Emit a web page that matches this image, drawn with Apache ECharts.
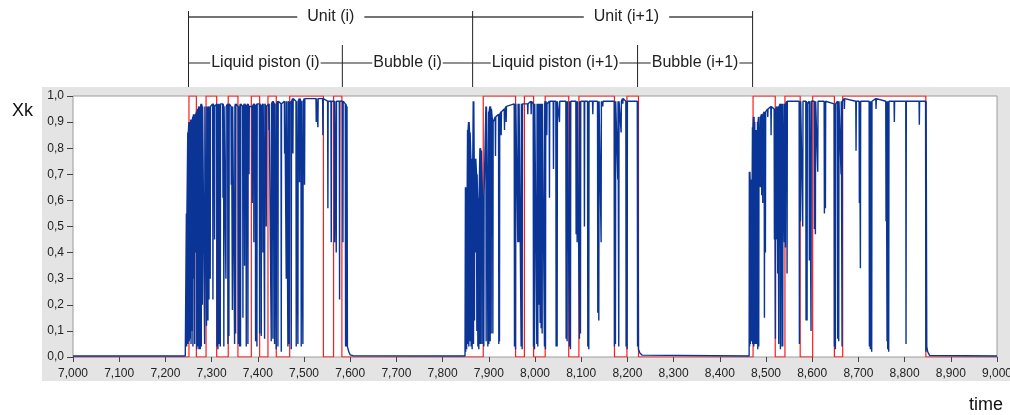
<!DOCTYPE html>
<html>
<head>
<meta charset="utf-8">
<script src="https://cdn.jsdelivr.net/npm/echarts@6/dist/echarts.min.js"></script>
<style>
  html, body { margin: 0; padding: 0; background: #fff; }
  #chart { width: 1010px; height: 415px; }
</style>
</head>
<body>
<div id="chart"></div>
<script>
// x axis (time) and y axis (Xk) ticks
var timeMin = 7000, timeMax = 9000, timeStep = 100;
var xkMin = 0, xkMax = 1, xkStep = 0.1;

// red indicator: level switches to redLevels[i] at redTimes[i]
var redTimes  = [7000, 7251, 7267, 7288, 7311, 7336, 7357, 7386, 7404, 7422, 7440, 7469, 7542, 7564, 7582,
                 7888, 7958, 7977, 7997, 8022, 8073, 8095, 8172, 8199, 8224,
                 8472, 8520, 8541, 8574, 8601, 8648, 8666, 8846, 9000];
var redLevels = [0, 1, 0, 1, 0, 1, 0, 1, 0, 1, 0, 1, 0, 1, 0,
                 1, 0, 1, 0, 1, 0, 1, 0, 1, 0,
                 1, 0, 1, 0, 1, 0, 1, 0, 0];

// blue Xk signal: flat level outside the pistons
var baseLevel = 0.004;
// [time, lowest value of the dip, level around it]
var piston1 = [
  [7246.0,0.04,0.55],[7249.0,0.05,0.86],[7251.5,0.06,0.90],[7253.5,0.07,0.89],[7255.5,0.05,0.91],
  [7257.5,0.10,0.90],[7259.6,0.04,0.92],[7261.5,0.30,0.93],[7263.5,0.05,0.92],[7265.4,0.40,0.93],
  [7268.0,0.03,0.94],[7270.5,0.04,0.95],[7272.6,0.03,0.96],[7275.5,0.03,0.96],[7277.7,0.04,0.97],
  [7280.0,0.20,0.96],[7284.9,0.05,0.96],[7289.0,0.12,0.96],[7292.1,0.14,0.95],[7294.3,0.22,0.96],
  [7297.0,0.30,0.96],[7302.9,0.22,0.97],[7306.5,0.45,0.96],[7311.6,0.04,0.97],[7313.7,0.03,0.97],
  [7315.9,0.05,0.96],[7318.8,0.04,0.97],[7324.6,0.61,0.97],[7326.5,0.04,0.96],[7331.0,0.30,0.96],
  [7335.4,0.05,0.97],[7337.5,0.08,0.97],[7342.6,0.66,0.96],[7345.0,0.18,0.96],[7349.8,0.05,0.96],
  [7352.0,0.09,0.97],[7358.0,0.05,0.96],[7360.6,0.04,0.96],[7362.6,0.04,0.97],[7367.8,0.15,0.96],
  [7371.4,0.35,0.97],[7375.0,0.04,0.96],[7378.6,0.05,0.97],[7381.0,0.70,0.96],[7388.0,0.59,0.96],
  [7391.5,0.44,0.97],[7395.2,0.06,0.96],[7398.1,0.04,0.97],[7403.9,0.09,0.97],[7407.5,0.08,0.96],
  [7411.1,0.40,0.97],[7414.7,0.07,0.97],[7418.3,0.50,0.96],[7424.1,0.87,0.97],[7429.1,0.06,0.97],
  [7432.7,0.07,0.98],[7436.3,0.05,0.97],[7439.9,0.03,0.97],[7443.6,0.04,0.98],[7450.8,0.02,0.97],
  [7458.0,0.78,0.98],[7461.6,0.30,0.98],[7465.2,0.04,0.98],[7468.0,0.05,0.97],[7472.4,0.03,0.98],
  [7476.0,0.78,0.99],[7483.2,0.04,0.98],[7486.8,0.05,0.98],[7490.4,0.67,0.99],[7494.0,0.04,0.98],
  [7497.6,0.05,0.98],[7501.2,0.66,0.99],[7526.5,0.90,0.99],[7530.1,0.88,0.99],[7540.9,0.85,0.99],
  [7551.7,0.57,0.98],[7559.0,0.44,0.98],[7566.2,0.44,0.98],[7569.8,0.40,0.98],[7577.0,0.22,0.98],
  [7584.2,0.44,0.98],[7590.0,0.04,0.97],[7592.5,0.04,0.96]
];
var piston2 = [
  [7850.0,0.02,0.65],[7852.0,0.03,0.45],[7854.6,0.05,0.87],[7856.8,0.04,0.90],[7859.0,0.06,0.86],
  [7861.8,0.04,0.76],[7864.0,0.03,0.60],[7866.9,0.05,0.98],[7869.0,0.14,0.76],[7871.2,0.40,0.76],
  [7874.1,0.10,0.70],[7876.3,0.04,0.61],[7878.4,0.03,0.60],[7881.3,0.05,0.80],[7883.5,0.05,0.79],
  [7887.1,0.05,0.61],[7889.2,0.04,0.62],[7894.3,0.06,0.96],[7897.9,0.04,0.46],[7900.1,0.05,0.94],
  [7903.0,0.06,0.96],[7905.1,0.09,0.95],[7908.8,0.09,0.90],[7914.5,0.77,0.92],[7921.7,0.05,0.93],
  [7923.1,0.06,0.93],[7926.8,0.85,0.94],[7934.0,0.87,0.95],[7937.6,0.90,0.96],[7955.6,0.04,0.97],
  [7957.8,0.03,0.97],[7962.8,0.44,0.97],[7965.0,0.44,0.97],[7970.0,0.04,0.97],[7972.2,0.03,0.97],
  [7984.4,0.93,0.97],[7991.7,0.93,0.98],[7996.7,0.04,0.97],[7998.9,0.03,0.97],[8003.9,0.05,0.97],
  [8006.1,0.04,0.97],[8008.2,0.20,0.97],[8011.1,0.13,0.97],[8013.3,0.11,0.97],[8015.5,0.09,0.97],
  [8020.5,0.04,0.97],[8022.7,0.03,0.98],[8025.5,0.85,0.97],[8031.3,0.61,0.98],[8040.0,0.72,0.98],
  [8045.7,0.04,0.98],[8047.9,0.04,0.98],[8053.0,0.90,0.98],[8067.4,0.07,0.98],[8069.5,0.06,0.98],
  [8074.6,0.04,0.98],[8076.8,0.03,0.98],[8089.0,0.47,0.98],[8091.2,0.44,0.98],[8096.2,0.07,0.98],
  [8098.4,0.09,0.98],[8107.0,0.50,0.98],[8114.3,0.04,0.98],[8116.4,0.03,0.98],[8125.1,0.93,0.98],
  [8135.9,0.17,0.98],[8138.1,0.14,0.98],[8143.1,0.44,0.98],[8146.7,0.96,0.98],[8172.0,0.04,0.98],
  [8174.1,0.05,0.98],[8179.2,0.68,0.98],[8181.3,0.04,0.98],[8186.4,0.86,0.98],[8190.0,0.97,0.99],
  [8197.2,0.04,0.98],[8199.4,0.03,0.98],[8222.0,0.04,0.98]
];
var piston3 = [
  [8464.5,0.04,0.71],[8466.3,0.05,0.68],[8469.2,0.06,0.60],[8471.3,0.05,0.88],[8473.5,0.04,0.92],
  [8475.0,0.05,0.90],[8477.1,0.05,0.68],[8478.5,0.08,0.87],[8480.0,0.05,0.65],[8482.2,0.03,0.90],
  [8484.3,0.04,0.92],[8487.9,0.65,0.92],[8490.8,0.62,0.93],[8493.0,0.59,0.93],[8496.6,0.15,0.94],
  [8498.7,0.40,0.94],[8503.8,0.92,0.95],[8511.0,0.85,0.96],[8518.2,0.45,0.95],[8520.5,0.07,0.95],
  [8523.5,0.45,0.96],[8525.4,0.32,0.96],[8527.6,0.05,0.96],[8531.2,0.03,0.97],[8532.6,0.04,0.97],
  [8534.1,0.72,0.97],[8536.2,0.04,0.97],[8539.8,0.44,0.97],[8542.0,0.42,0.97],[8545.6,0.32,0.98],
  [8572.3,0.05,0.98],[8574.5,0.52,0.98],[8579.5,0.50,0.98],[8586.7,0.14,0.98],[8588.9,0.14,0.97],
  [8593.9,0.37,0.98],[8597.5,0.10,0.98],[8604.8,0.49,0.98],[8606.9,0.47,0.98],[8612.0,0.71,0.98],
  [8626.4,0.55,0.98],[8628.6,0.57,0.98],[8648.0,0.04,0.97],[8650.2,0.03,0.97],[8655.2,0.07,0.98],
  [8657.4,0.06,0.98],[8662.4,0.70,0.98],[8664.6,0.04,0.98],[8669.7,0.95,0.99],[8694.9,0.79,0.98],
  [8702.1,0.59,0.98],[8704.3,0.34,0.98],[8723.8,0.04,0.98],[8725.9,0.03,0.98],[8728.8,0.02,0.98],
  [8738.2,0.95,0.99],[8759.8,0.52,0.98],[8762.0,0.06,0.98],[8763.4,0.03,0.98],[8765.6,0.02,0.98],
  [8777.8,0.90,0.98],[8803.1,0.05,0.98],[8831.9,0.89,0.98],[8846.0,0.02,0.98]
];
// tail of each piston falling back to the base level
var tail1 = [[7594, 0.04], [7597, 0.02], [7600, 0.008], [7606, 0.005]];
var tail2 = [[8224, 0.03], [8227, 0.015], [8232, 0.007]];
var tail3 = [[8848, 0.04], [8850, 0.02], [8854, 0.006]];
var pistonStart = [7243, 7848.5, 8463.5];

// annotation brackets above the plot
var unitBounds = [7250, 7865, 8471];
var unitNames = ['Unit (i)', 'Unit (i+1)'];
var unitLabelAt = [7558, 8198];
var phaseBounds = [7250, 7583, 7865, 8222, 8471];
var phaseNames = ['Liquid piston (i)', 'Bubble (i)', 'Liquid piston (i+1)', 'Bubble (i+1)'];

var redData = redTimes.map(function (t, i) { return [t, redLevels[i]]; });

function buildBlue() {
  var pistons = [piston1, piston2, piston3];
  var tails = [tail1, tail2, tail3];
  var pts = [[timeMin, baseLevel]];
  for (var p = 0; p < pistons.length; p++) {
    pts.push([pistonStart[p], baseLevel]);
    pistons[p].forEach(function (d) {
      pts.push([d[0] - 0.6, d[2]]);
      pts.push([d[0], d[1]]);
      pts.push([d[0] + 0.6, d[2]]);
    });
    tails[p].forEach(function (d) { pts.push(d); });
  }
  pts.push([timeMax, baseLevel]);
  return pts;
}

var font = 'Liberation Sans, Arial, sans-serif';
var chart = echarts.init(document.getElementById('chart'));

chart.setOption({
  animation: false,
  backgroundColor: '#fff',
  grid: {
    left: 73, right: 13, top: 96, bottom: 58,
    containLabel: false, outerBoundsMode: 'none',
    show: true, backgroundColor: '#fff', borderColor: '#9c9c9c', borderWidth: 1
  },
  xAxis: {
    type: 'value', min: timeMin, max: timeMax, interval: timeStep,
    axisLine: { show: false },
    axisTick: { show: true, inside: false, length: 5, lineStyle: { color: '#444' } },
    splitLine: { show: false },
    axisLabel: {
      margin: 11, fontSize: 12, color: '#222', fontFamily: font,
      formatter: function (v) { return String(v).replace(/\B(?=(\d{3})+(?!\d))/g, ','); }
    }
  },
  yAxis: {
    type: 'value', min: xkMin, max: xkMax, interval: xkStep,
    axisLine: { show: false },
    axisTick: { show: true, inside: false, length: 6, lineStyle: { color: '#444' } },
    splitLine: { show: false },
    axisLabel: {
      margin: 9, fontSize: 12, color: '#222', fontFamily: font,
      formatter: function (v) { return v.toFixed(1).replace('.', ','); }
    }
  },
  series: [
    {
      name: 'indicator', type: 'line', step: 'end', data: redData,
      showSymbol: false, z: 2,
      lineStyle: { color: '#ff1a1a', width: 1.2 }
    },
    {
      name: 'Xk', type: 'line', data: buildBlue(),
      showSymbol: false, sampling: null, z: 3,
      lineStyle: { color: '#0a3597', width: 1.4 }
    }
  ]
});

// bracket annotations, placed with the x axis scale
function px(t) { return chart.convertToPixel({ xAxisIndex: 0 }, t); }
var lineStyle = { stroke: '#222', lineWidth: 1 };
var g = [];
g.push({ type: 'rect', z: -5, silent: true, shape: { x: 42, y: 87, width: 968, height: 294 }, style: { fill: '#e4e4e4' } });

var yTop = 17, yMid = 63, yBot = 87;
g.push({ type: 'line', shape: { x1: px(unitBounds[0]), y1: yTop, x2: px(unitBounds[2]), y2: yTop }, style: { stroke: '#444', lineWidth: 1.3 } });
unitBounds.forEach(function (t) {
  g.push({ type: 'line', shape: { x1: px(t), y1: 11, x2: px(t), y2: yBot }, style: lineStyle });
});
unitNames.forEach(function (name, i) {
  g.push({ type: 'text', z: 5, x: px(unitLabelAt[i]), y: yTop, style: {
    text: name, fontSize: 16, fontFamily: font, fill: '#222', align: 'center', verticalAlign: 'middle',
    backgroundColor: '#fff', padding: [2, 10] } });
});

g.push({ type: 'line', shape: { x1: px(phaseBounds[0]), y1: yMid, x2: px(phaseBounds[4]), y2: yMid }, style: lineStyle });
[phaseBounds[1], phaseBounds[3]].forEach(function (t) {
  g.push({ type: 'line', shape: { x1: px(t), y1: 45, x2: px(t), y2: yBot }, style: lineStyle });
});
phaseNames.forEach(function (name, i) {
  var cx = (px(phaseBounds[i]) + px(phaseBounds[i + 1])) / 2;
  g.push({ type: 'text', z: 5, x: cx, y: yMid, style: {
    text: name, fontSize: 16, fontFamily: font, fill: '#222', align: 'center', verticalAlign: 'middle',
    backgroundColor: '#fff', padding: [2, 1] } });
});

g.push({ type: 'text', x: 12, y: 111, style: { text: 'Xk', fontSize: 18, fontFamily: font, fill: '#111', verticalAlign: 'middle' } });
g.push({ type: 'text', x: 1003, y: 405, style: { text: 'time', fontSize: 18, fontFamily: font, fill: '#111', align: 'right', verticalAlign: 'middle' } });

chart.setOption({ graphic: g });
</script>
</body>
</html>
